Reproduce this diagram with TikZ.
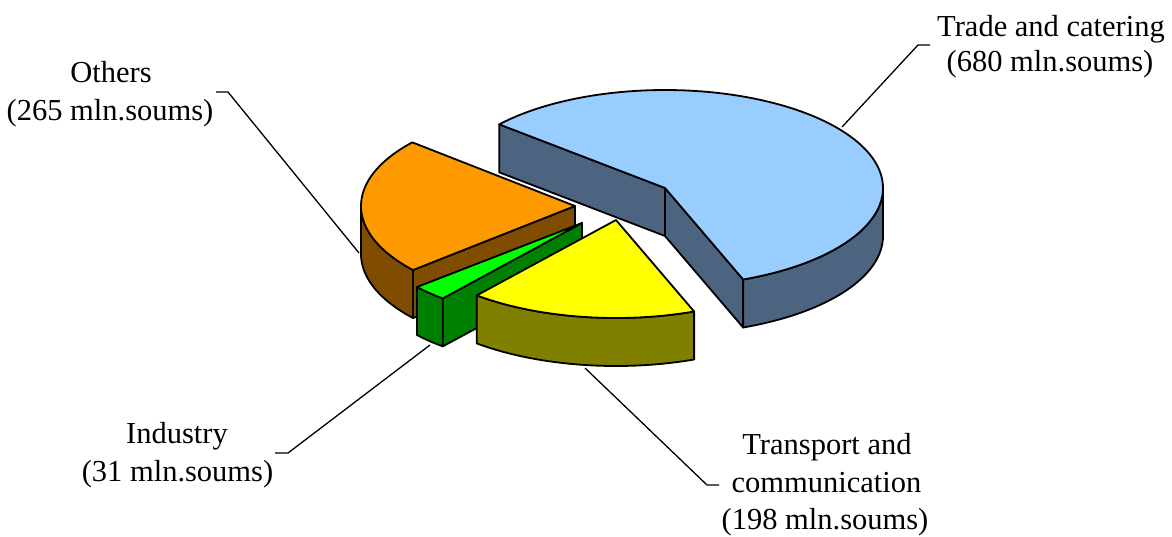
\documentclass[tikz,border=0pt]{standalone}
\usepackage{fontspec}
\setmainfont{Liberation Serif}
\usetikzlibrary{calc}
\definecolor{trtop}{HTML}{99CCFF}
\definecolor{trside}{HTML}{4D6480}
\definecolor{ottop}{HTML}{FF9900}
\definecolor{otside}{HTML}{804C00}
\definecolor{intop}{HTML}{00FF00}
\definecolor{inside}{HTML}{008000}
\definecolor{tptop}{HTML}{FFFF00}
\definecolor{tpside}{HTML}{808000}
\tikzset{
  piece/.style={draw=black, line width=1.8pt, line join=round},
  leader/.style={draw=black, line width=1.3pt},
  lbl/.style={font=\fontsize{30.5}{36}\selectfont, anchor=base, inner sep=0pt},
}
\begin{document}
\begin{tikzpicture}[x=1pt,y=-1pt]
\useasboundingbox (0,0) rectangle (1172,536);
\def\ra{218}\def\rb{98}\def\dh{48}

% ---------- leader lines (behind the pie) ----------
\coordinate (trL) at (842,127); \coordinate (trK) at (918,45); \coordinate (trE) at (930,45);
\coordinate (otL) at (359,253); \coordinate (otK) at (228,92); \coordinate (otE) at (216,92);
\coordinate (inL) at (430,345); \coordinate (inK) at (288,453); \coordinate (inE) at (275,453);
\coordinate (tpL) at (585,368); \coordinate (tpK) at (707,485); \coordinate (tpE) at (719,485);
\draw[leader] (trL) -- (trK) -- (trE);
\draw[leader] (otL) -- (otK) -- (otE);
\draw[leader] (inL) -- (inK) -- (inE);
\draw[leader] (tpL) -- (tpK) -- (tpE);

% ---------- Trade and catering ----------
\coordinate (trC) at (665,188);
\coordinate (trA) at ({665+\ra*cos(-69)},{188-\rb*sin(-69)});
\coordinate (trB) at ({665+\ra*cos(139.5)},{188-\rb*sin(139.5)});
\draw[piece,fill=trside] (trC) -- (trB) -- ($(trB)+(0,\dh)$) -- ($(trC)+(0,\dh)$) -- cycle;
\draw[piece,fill=trside] (trC) -- (trA) -- ($(trA)+(0,\dh)$) -- ($(trC)+(0,\dh)$) -- cycle;
\draw[piece,fill=trside] plot[domain=-69:0,samples=40] ({665+\ra*cos(\x)},{188-\rb*sin(\x)})
  -- plot[domain=0:-69,samples=40] ({665+\ra*cos(\x)},{188+\dh-\rb*sin(\x)}) -- cycle;
\draw[piece,fill=trtop] (trC) -- plot[domain=-69:139.5,samples=100] ({665+\ra*cos(\x)},{188-\rb*sin(\x)}) -- cycle;

% ---------- Others ----------
\def\rao{214}
\coordinate (otC) at (575,206);
\coordinate (otB) at ({575+\rao*cos(220.8)},{206-\rb*sin(220.8)});
\draw[piece,fill=otside] (otC) -- (otB) -- ($(otB)+(0,\dh)$) -- ($(otC)+(0,\dh)$) -- cycle;
\draw[piece,fill=otside] plot[domain=180:220.8,samples=30] ({575+\rao*cos(\x)},{206-\rb*sin(\x)})
  -- plot[domain=220.8:180,samples=30] ({575+\rao*cos(\x)},{206+\dh-\rb*sin(\x)}) -- cycle;
\draw[piece,fill=ottop] (otC) -- plot[domain=139.5:220.8,samples=50] ({575+\rao*cos(\x)},{206-\rb*sin(\x)}) -- cycle;

% ---------- Industry ----------
\coordinate (inC) at (582,223);
\coordinate (inB) at ({582+\ra*cos(230.3)},{223-\rb*sin(230.3)});
\draw[piece,fill=inside] (inC) -- (inB) -- ($(inB)+(0,\dh)$) -- ($(inC)+(0,\dh)$) -- cycle;
\draw[piece,fill=inside] plot[domain=220.8:230.3,samples=10] ({582+\ra*cos(\x)},{223-\rb*sin(\x)})
  -- plot[domain=230.3:220.8,samples=10] ({582+\ra*cos(\x)},{223+\dh-\rb*sin(\x)}) -- cycle;
\draw[piece,fill=intop] (inC) -- plot[domain=220.8:230.3,samples=10] ({582+\ra*cos(\x)},{223-\rb*sin(\x)}) -- cycle;

% ---------- Transport and communication ----------
\coordinate (tpC) at (616,220);
\draw[piece,fill=tpside] plot[domain=230.3:291,samples=40] ({616+\ra*cos(\x)},{220-\rb*sin(\x)})
  -- plot[domain=291:230.3,samples=40] ({616+\ra*cos(\x)},{220+\dh-\rb*sin(\x)}) -- cycle;
\draw[piece,fill=tptop] (tpC) -- plot[domain=230.3:291,samples=40] ({616+\ra*cos(\x)},{220-\rb*sin(\x)}) -- cycle;

% ---------- labels ----------
\node[lbl] (trT1) at (1051,36.5) {Trade and catering};
\node[lbl] (trT2) at (1050,71) {(680 mln.soums)};
\node[lbl] (otT1) at (111,82.5) {Others};
\node[lbl] (otT2) at (110,120.5) {(265 mln.soums)};
\node[lbl] (inT1) at (177,443.5) {Industry};
\node[lbl] (inT2) at (177.5,481.5) {(31 mln.soums)};
\node[lbl] (tpT1) at (827,454) {Transport and};
\node[lbl] (tpT2) at (826.5,492.5) {communication};
\node[lbl] (tpT3) at (825,529) {(198 mln.soums)};
\end{tikzpicture}
\end{document}
